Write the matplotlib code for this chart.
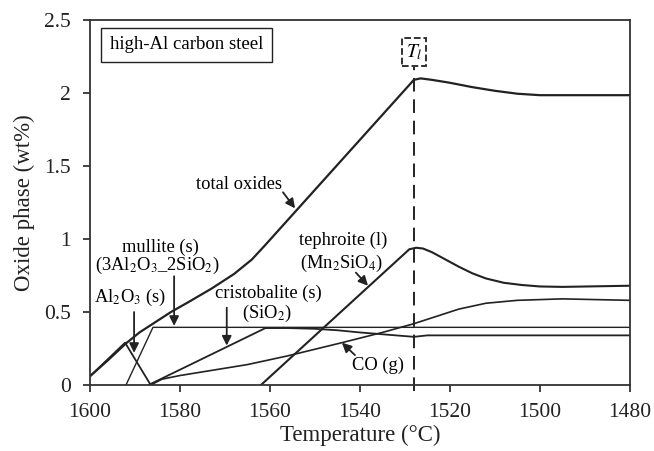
import matplotlib.pyplot as plt

plt.rcParams['font.family'] = ['Liberation Serif', 'DejaVu Serif']
plt.rcParams['mathtext.fontset'] = 'stix'

# total oxides
t_total = [1600, 1596, 1592, 1589, 1586, 1582, 1578, 1573, 1568, 1564, 1561, 1528, 1526.5, 1524, 1520, 1515,
           1510, 1505, 1500, 1480]
y_total = [0.06, 0.17, 0.285, 0.36, 0.42, 0.50, 0.57, 0.66, 0.76, 0.86, 0.96, 2.09, 2.10, 2.09, 2.07, 2.04,
           2.015, 1.995, 1.985, 1.985]

# Al2O3 (s)
t_al2o3 = [1600, 1592.2, 1586.5]
y_al2o3 = [0.06, 0.29, 0.0]

# mullite (s)
t_mullite = [1592, 1586, 1480]
y_mullite = [0.0, 0.395, 0.395]

# cristobalite (s)
t_crist = [1587, 1561, 1556, 1550, 1545, 1540, 1534, 1528, 1525, 1480]
y_crist = [0.0, 0.39, 0.39, 0.385, 0.375, 0.36, 0.345, 0.33, 0.34, 0.34]

# tephroite (l)
t_teph = [1562, 1529, 1527.5, 1526, 1524, 1521, 1518, 1515, 1512, 1508, 1504, 1500, 1495, 1480]
y_teph = [0.0, 0.93, 0.94, 0.935, 0.91, 0.86, 0.81, 0.765, 0.73, 0.70, 0.685, 0.675, 0.672, 0.68]

# CO (g)
t_co = [1586.5, 1584, 1580, 1577, 1571, 1565, 1556, 1544, 1535, 1528, 1524, 1518, 1512, 1505, 1495, 1480]
y_co = [0.0, 0.04, 0.065, 0.08, 0.11, 0.14, 0.20, 0.29, 0.36, 0.42, 0.46, 0.52, 0.56, 0.58, 0.59, 0.58]

t_liq = 1528

fig = plt.figure(figsize=(6.54, 4.51), dpi=100)
ax = fig.add_axes([0.1376, 0.1463, 0.8254, 0.8094])

c = '#222222'
ax.plot(t_total, y_total, color=c, lw=1.6)
ax.plot(t_al2o3, y_al2o3, color=c, lw=1.3)
ax.plot(t_mullite, y_mullite, color=c, lw=1.0)
ax.plot(t_crist, y_crist, color=c, lw=1.3)
ax.plot(t_teph, y_teph, color=c, lw=1.5)
ax.plot(t_co, y_co, color=c, lw=1.2)

ax.plot([t_liq, t_liq], [-0.04, 2.18], color=c, lw=1.4, dashes=(7, 4), clip_on=False)
ax.text(t_liq, 2.28, '$T_l$', ha='center', va='center', fontsize=14,
        bbox=dict(boxstyle='square,pad=0.2', fc='white', ec=c, ls='--', lw=1.3))

ax.text(1595.6, 2.33, 'high-Al carbon steel', ha='left', va='center', fontsize=13.5,
        bbox=dict(boxstyle='square,pad=0.45', fc='white', ec=c, lw=1.0))

ap = dict(arrowstyle='-|>', color=c, lw=1.3, mutation_scale=14, shrinkA=0, shrinkB=0)
fs = 13.3

ax.text(1566.8, 1.37, 'total oxides', ha='center', va='center', fontsize=fs)
ax.annotate('', xy=(1554.4, 1.21), xytext=(1557.1, 1.32), arrowprops=ap)

ax.text(1584.4, 0.945, 'mullite (s)', ha='center', va='center', fontsize=fs)
ax.text(1585.1, 0.82, '(3Al$_2$O$_3$_2SiO$_2$)', ha='center', va='center', fontsize=fs)
ax.annotate('', xy=(1581.3, 0.405), xytext=(1581.3, 0.745), arrowprops=ap)

ax.text(1591.1, 0.60, 'Al$_2$O$_3$ (s)', ha='center', va='center', fontsize=fs)
ax.annotate('', xy=(1590.2, 0.22), xytext=(1590.2, 0.50), arrowprops=ap)

ax.text(1560.4, 0.63, 'cristobalite (s)', ha='center', va='center', fontsize=fs)
ax.text(1560.7, 0.49, '(SiO$_2$)', ha='center', va='center', fontsize=fs)
ax.annotate('', xy=(1569.6, 0.27), xytext=(1569.6, 0.53), arrowprops=ap)

ax.text(1543.8, 0.99, 'tephroite (l)', ha='center', va='center', fontsize=fs)
ax.text(1544.0, 0.835, '(Mn$_2$SiO$_4$)', ha='center', va='center', fontsize=fs)
ax.annotate('', xy=(1538.2, 0.68), xytext=(1540.9, 0.77), arrowprops=ap)

ax.text(1536.0, 0.137, 'CO (g)', ha='center', va='center', fontsize=fs)
ax.annotate('', xy=(1544.0, 0.29), xytext=(1541.1, 0.205), arrowprops=ap)

ax.set_xlim(1600, 1480)
ax.set_ylim(0, 2.5)
ax.set_xticks([1600, 1580, 1560, 1540, 1520, 1500, 1480])
ax.set_yticks([0, 0.5, 1, 1.5, 2, 2.5])
ax.set_yticklabels(['0', '0.5', '1', '1.5', '2', '2.5'])
ax.tick_params(direction='out', length=5, width=1.2, labelsize=15.5, colors=c)
ax.tick_params(axis='x', pad=8)
ax.tick_params(axis='y', pad=9)
ax.set_xlabel('Temperature (°C)', fontsize=16.5, color=c, labelpad=2)
ax.set_ylabel('Oxide phase (wt%)', fontsize=16.5, color=c, labelpad=6)
for s in ax.spines.values():
    s.set_linewidth(1.3)
    s.set_color('#333333')

fig.savefig('out.png', dpi=100)
